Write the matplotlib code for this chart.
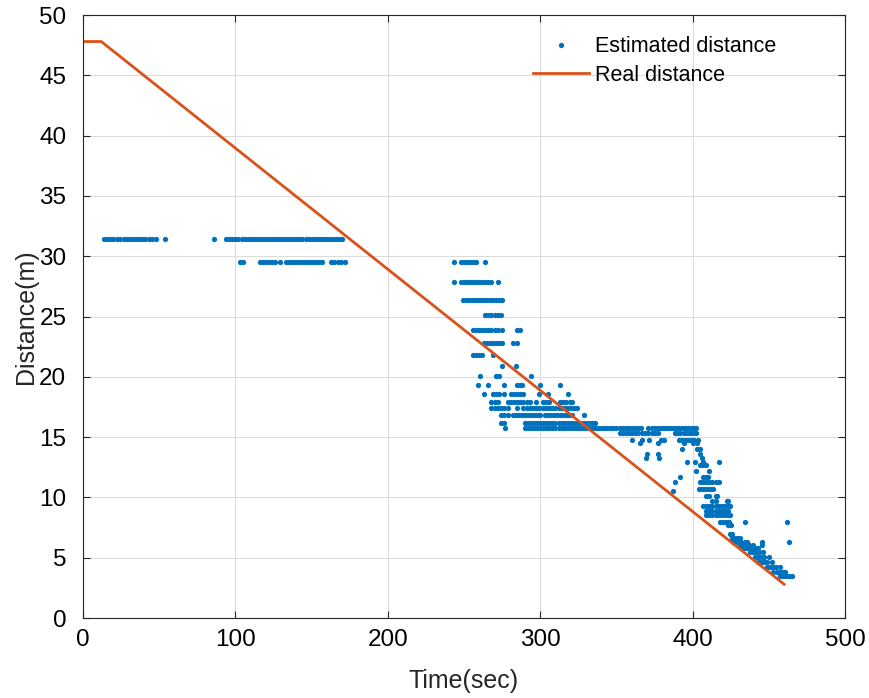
import numpy as np
import matplotlib.pyplot as plt

plt.rcParams['font.family'] = ['Liberation Sans', 'DejaVu Sans']

# real distance (piecewise line)
real_t = [0, 12, 460]
real_d = [47.8, 47.8, 2.8]

# estimated distance, grouped by the quantised distance level
est_levels = [31.4, 29.5, 27.9, 26.4, 25.1, 23.9, 22.8, 21.8, 20.9, 20.07,
              19.3, 18.6, 17.95, 17.4, 16.8, 16.2, 15.75, 15.3, 14.8, 14.55,
              14.0, 13.6, 13.25, 12.97, 12.7, 12.15, 11.7, 11.3, 10.7, 10.5,
              10.1, 9.7, 9.25, 8.9, 8.5, 8.0, 7.7, 7.0, 6.6, 6.33,
              6.05, 5.78, 5.5, 5.08, 4.67, 4.2, 3.84, 3.48]
est_times = [
    [14, 16, 18, 20, 22, 24, 27, 29, 31, 33, 35, 37, 39, 41, 43, 45, 48, 54, 86,
     94, 96, 98, 100, 102, 104, 106, 108, 110, 112, 114, 116, 118, 120, 122, 124,
     126, 128, 130, 132, 134, 136, 138, 140, 142, 144, 146, 148, 150, 152, 154,
     156, 158, 160, 162, 164, 166, 168, 170],
    [103, 105, 116, 118, 120, 122, 124, 126, 129, 133, 135, 137, 139, 141, 143,
     145, 147, 149, 151, 153, 155, 157, 163, 165, 167, 169, 172,
     243.5, 248, 250, 252, 254, 256, 258, 264],
    [243.5, 248, 250, 252, 254, 256, 258, 260, 262, 264, 266, 268, 272.5],
    [249, 251, 253, 255, 257, 259, 261, 263, 265, 267, 269, 271, 273, 275],
    [264, 266, 268, 270, 272, 274],
    [256, 258, 260, 262, 264, 266, 268, 270, 272, 275, 285, 287],
    [263, 265, 267, 269, 271, 273, 275, 282, 285],
    [256, 258, 260, 262, 269],
    [275, 284],
    [260.5, 271, 273, 294],
    [259, 266, 276, 285, 287, 288, 300, 313],
    [263, 269, 271, 273, 276, 281, 283, 285, 287, 289, 299, 305, 318],
    [268, 270, 272.5, 279, 281, 283, 285, 287, 289, 291, 293, 297, 302, 304, 306,
     313, 315, 317, 319.6, 321],
    [268, 270, 272, 274, 276, 279, 285, 289, 291, 293, 295, 297, 299, 302, 304,
     306, 308, 310, 312, 314, 316, 318, 320, 322, 324],
    [274, 276, 279, 282, 284, 286, 288, 290, 292, 294, 296, 298, 300, 303, 305,
     307, 309, 311, 313, 315, 317, 319, 321, 329],
    [274, 276, 290, 292, 294, 296, 298, 300, 302, 304, 306, 308, 310, 312, 314,
     316, 318, 320, 322, 324, 326, 328, 330, 332, 334, 336],
    [277, 290, 292, 294, 296, 298, 300, 302, 304, 306, 308, 310, 312, 314, 316,
     318, 320, 322, 324, 326, 328, 330, 332, 334, 336, 338, 340, 342, 344, 346,
     348, 350, 352, 354, 356, 358, 360, 362, 364, 366, 371, 373, 375, 377, 379,
     381, 383, 385, 387, 389, 391, 393, 395, 397, 399, 401, 402.5],
    [352, 354, 356, 358, 360, 362, 364, 366.5, 369, 371, 373, 375, 377.5,
     388.5, 390, 392, 394, 396, 398, 400, 402.5],
    [360, 366.5, 371.5, 379, 381, 391, 393, 395, 397, 399, 401, 403.5],
    [365.5, 377.5, 394, 400, 403],
    [393, 403, 405],
    [370, 377.5, 405],
    [369.5, 378, 406],
    [396, 401.6, 407, 417],
    [405, 407, 409],
    [402, 411],
    [391.7, 407, 409, 410],
    [388.5, 405, 407, 409, 411, 412.5, 415, 417],
    [404, 406, 408, 410, 412, 413.6],
    [387.4],
    [409, 411, 415, 416],
    [413, 415, 422.4, 423.4],
    [407, 409, 411, 413, 415, 417, 419, 421, 423, 424.5],
    [409, 411, 413, 415, 417, 419, 421, 423],
    [409, 411, 413, 415, 417, 419, 421, 423, 424.5],
    [418, 420, 422, 424, 434.4, 462],
    [423.3, 425],
    [424.5, 425.6],
    [425.6, 427, 429, 431],
    [426.6, 428, 430, 432, 434, 435.5, 445.3, 463.4],
    [431, 433, 435, 437, 439.8, 445.3],
    [433, 435, 437, 439, 441, 443],
    [437.7, 439.5, 441.5, 443.5, 446.4],
    [441, 443, 445, 447, 449.8],
    [443, 445, 447, 449, 451.9],
    [448.6, 450.5, 452.5, 454.5, 457.4],
    [453, 455, 457, 459, 460.7],
    [457.4, 459.5, 461.5, 463.5, 465],
]

est_t = []
est_d = []
for lvl, ts in zip(est_levels, est_times):
    est_t += ts
    est_d += [lvl] * len(ts)

fig = plt.figure(figsize=(8.69, 6.98), dpi=100)
ax = fig.add_axes([0.0955, 0.1146, 0.877, 0.8639])

ax.plot(est_t, est_d, 'o', color='#0072BD', markersize=3.8, markeredgewidth=0,
        label='Estimated distance')
ax.plot(real_t, real_d, '-', color='#D95319', linewidth=2.0, label='Real distance')

ax.set_xlim(0, 500)
ax.set_ylim(0, 50)
ax.set_xticks(np.arange(0, 501, 100))
ax.set_yticks(np.arange(0, 51, 5))
ax.grid(True, color='#dcdcdc', linewidth=0.8)
ax.set_axisbelow(True)
ax.tick_params(direction='in', top=True, right=True, labelsize=17.5,
               color='#262626', length=5)
ax.tick_params(axis='x', pad=8)
ax.tick_params(axis='y', pad=12)
for s in ax.spines.values():
    s.set_color('#262626')
    s.set_linewidth(0.8)

ax.set_xlabel('Time(sec)', fontsize=18, color='#262626', labelpad=13)
ax.set_ylabel('Distance(m)', fontsize=18, color='#262626', labelpad=1)

leg = ax.legend(loc='upper left', bbox_to_anchor=(0.565, 0.997), frameon=False,
                fontsize=15.5, handlelength=2.6, handletextpad=0.3,
                labelspacing=0.35)

fig.savefig('out.png', dpi=100)
